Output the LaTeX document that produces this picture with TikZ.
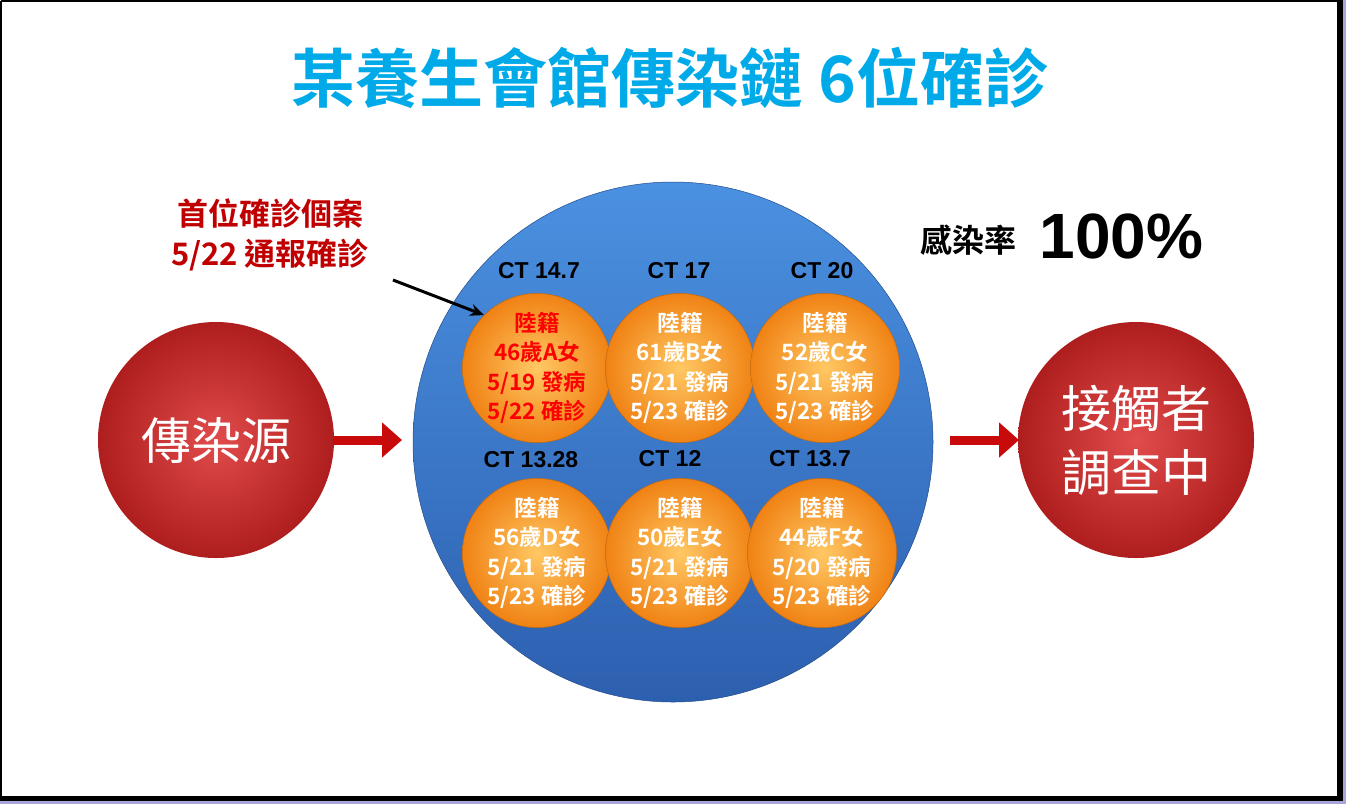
\documentclass[tikz,border=0pt]{standalone}
\usepackage{fontspec}
\setmainfont{Liberation Sans}
\newfontfamily\cjk{Noto Sans CJK TC}[BoldFont={Noto Sans CJK TC Bold}]
\usetikzlibrary{arrows.meta}
\definecolor{ttl}{RGB}{0,170,232}
\definecolor{drk}{RGB}{192,0,0}
\definecolor{orgA}{RGB}{255,200,100}
\definecolor{orgB}{RGB}{240,130,20}
\definecolor{bluA}{RGB}{75,145,225}
\definecolor{bluB}{RGB}{45,95,175}
\definecolor{redA}{RGB}{225,75,75}
\definecolor{redB}{RGB}{175,30,30}
\definecolor{arr}{RGB}{200,10,10}
\begin{document}
\begin{tikzpicture}[x=1pt,y=-1pt,
  case/.style={circle,minimum size=143pt,inner sep=0pt,draw=orgB!80!black,line width=0.5pt,
    inner color=orgA,outer color=orgB,text=white,font=\cjk\bfseries\fontsize{22.5}{29.5}\selectfont,align=center},
  ct/.style={font=\bfseries\fontsize{23}{24}\selectfont,text=black},
  big/.style={circle,minimum size=236pt,inner sep=0pt,inner color=redA,outer color=redB,text=white,
    font=\cjk\fontsize{50}{64}\selectfont,align=center},
  rarr/.style={-{Triangle[length=20pt,width=34pt]},line width=9pt,arr}]
\useasboundingbox (0,0) rectangle (1346,804);
\fill[white] (0,0) rectangle (1346,804);
\fill[gray!60!blue!50] (1343,0) rectangle (1346,804);
\fill[gray!60!blue!50] (0,801) rectangle (1346,804);
\draw[line width=1.5pt] (0.75,0.75) -- (1340.5,0.75);
\draw[line width=1.5pt] (0.75,0.75) -- (0.75,799);
\fill (1337,0) rectangle (1343,801);
\fill (0,796) rectangle (1343,801);
\node[font=\cjk\bfseries\fontsize{64}{66}\selectfont,text=ttl] (title) at (670,78) {某養生會館傳染鏈 \textbf{6}位確診};
\node[circle,minimum size=520pt,inner sep=0pt,top color=bluA,bottom color=bluB,draw=bluB!80!black,line width=0.5pt] (cl) at (673,442) {};
\node[font=\cjk\bfseries\fontsize{31}{40}\selectfont,text=drk,align=center] (first) at (270,235) {首位確診個案\\5/22 通報確診};
\node[font=\cjk\bfseries\fontsize{32}{34}\selectfont] (rate) at (968,240) {感染率};
\node[font=\bfseries\fontsize{64}{66}\selectfont,anchor=west] (pct) at (1036,236) {100\%};
\node[case,text=red] (A) at (537,368) {陸籍\\46歲A女\\5/19 發病\\5/22 確診};
\node[case] (B) at (680,368) {陸籍\\61歲B女\\5/21 發病\\5/23 確診};
\node[case] (C) at (825,368) {陸籍\\52歲C女\\5/21 發病\\5/23 確診};
\node[case] (D) at (537,553) {陸籍\\56歲D女\\5/21 發病\\5/23 確診};
\node[case] (E) at (680,553) {陸籍\\50歲E女\\5/21 發病\\5/23 確診};
\node[case] (F) at (822,553) {陸籍\\44歲F女\\5/20 發病\\5/23 確診};
\node[ct] (ctA) at (539,271) {CT 14.7};
\node[ct] (ctB) at (679,271) {CT 17};
\node[ct] (ctC) at (822,271) {CT 20};
\node[ct] (ctD) at (531,460) {CT 13.28};
\node[ct] (ctE) at (670,459) {CT 12};
\node[ct] (ctF) at (810,459) {CT 13.7};
\node[big] (src) at (216,440) {傳染源};
\node[big] (con) at (1136,440) {接觸者\\調查中};
\coordinate (s1) at (333,440); \coordinate (s2) at (402,440);
\coordinate (t1) at (950,440); \coordinate (t2) at (1019,440);
\draw[rarr] (s1) -- (s2);
\draw[rarr] (t1) -- (t2);
\coordinate (p0) at (393,280);
\draw[-{Stealth[length=14pt,width=12pt]},line width=3pt] (p0) -- (A.north west);
\end{tikzpicture}
\end{document}
